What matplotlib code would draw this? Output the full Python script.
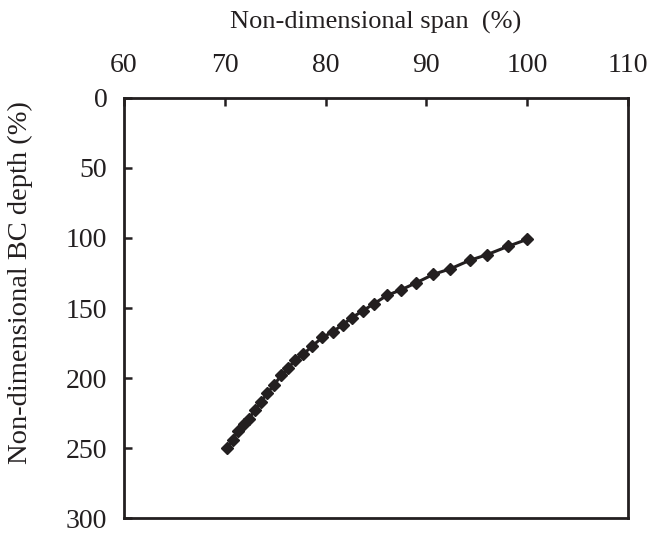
import numpy as np
from matplotlib import pyplot as plt

# non-dimensional span (%) and BC depth (%)
span = [70.2, 70.8, 71.3, 71.9, 72.4, 73.0, 73.6, 74.2, 74.9, 75.6,
        76.3, 77.0, 77.8, 78.7, 79.7, 80.7, 81.7, 82.6, 83.7, 84.8,
        86.1, 87.5, 89.0, 90.7, 92.4, 94.3, 96.0, 98.1, 100.0]
depth = [250, 244, 238, 233, 229, 223, 217, 211, 205, 198,
         193, 187, 183, 177, 171, 167, 162, 157, 152, 147,
         141, 137, 132, 126, 122, 116, 112, 106, 101]

x_ticks = [60, 70, 80, 90, 100, 110]
y_ticks = [0, 50, 100, 150, 200, 250, 300]

plt.rcParams['font.family'] = ['Liberation Serif', 'DejaVu Serif']

fig = plt.figure(figsize=(6.56, 5.38), dpi=100)
ax = fig.add_axes([0.189, 0.037, 0.768, 0.781])

ax.plot(span, depth, color='#231f20', linewidth=2.2, marker='D',
        markersize=6.5, markerfacecolor='#231f20', markeredgecolor='#231f20')

ax.set_xlim(60, 110)
ax.set_ylim(300, 0)
ax.set_xticks(x_ticks)
ax.set_yticks(y_ticks)

ax.xaxis.tick_top()
ax.xaxis.set_label_position('top')
ax.tick_params(axis='x', direction='in', length=6, width=1.8, pad=14,
               labelsize=20, colors='#231f20', top=True, bottom=False)
ax.tick_params(axis='y', direction='in', length=6, width=1.8, pad=12,
               labelsize=20, colors='#231f20')
for s in ax.spines.values():
    s.set_linewidth(2)
    s.set_color('#231f20')

ax.set_xlabel('Non-dimensional span  (%)', fontsize=19, labelpad=18, color='#231f20')
ax.set_ylabel('Non-dimensional BC depth (%)', fontsize=20.5, color='#231f20')
ax.yaxis.set_label_coords(-0.18, 0.56)

fig.savefig('out.png', dpi=100)
